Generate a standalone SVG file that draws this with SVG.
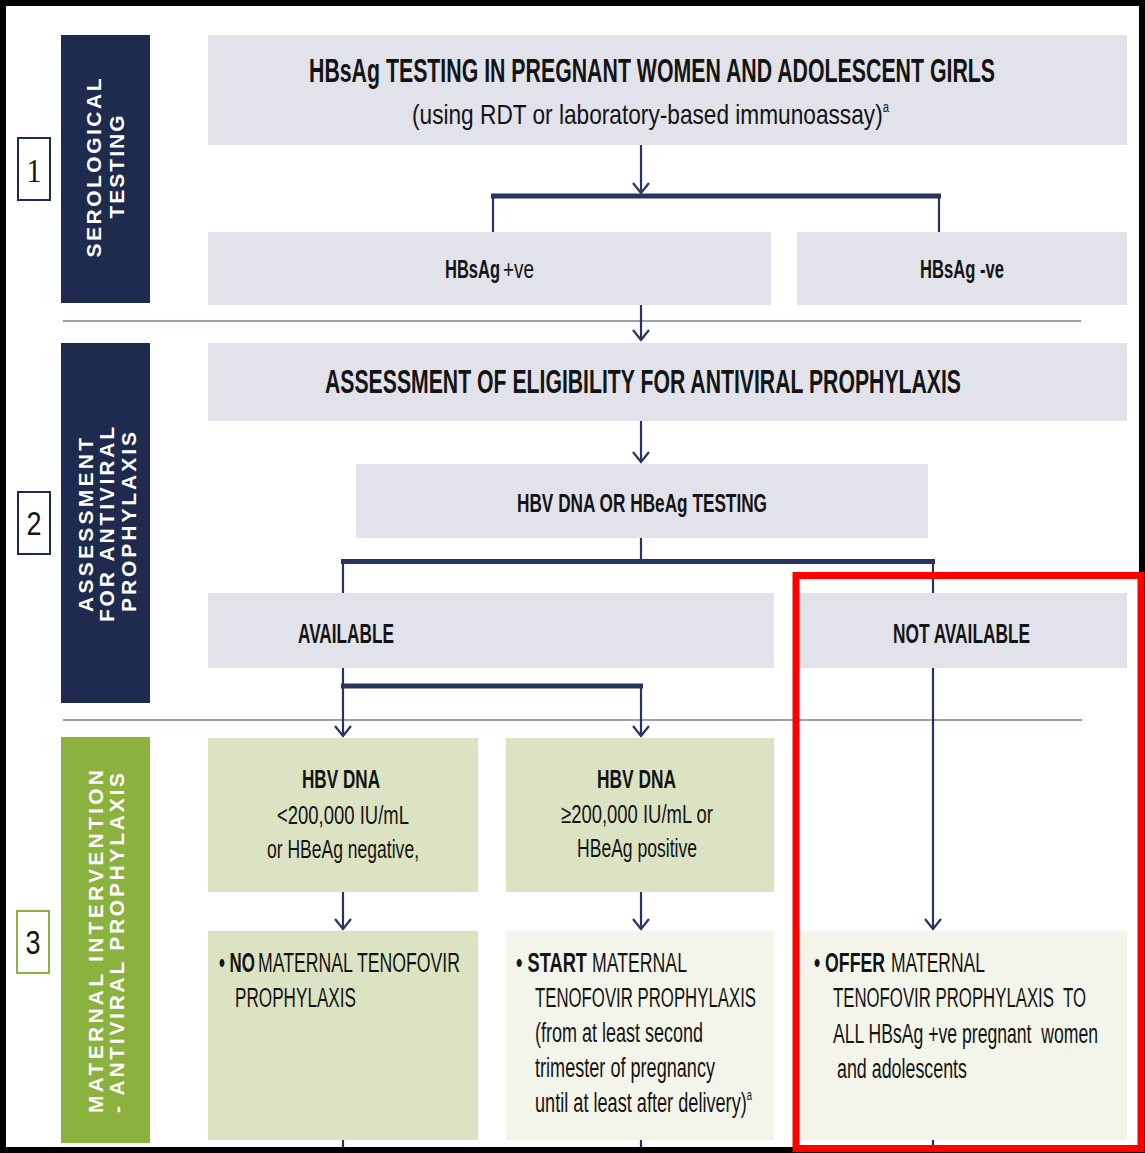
<svg xmlns="http://www.w3.org/2000/svg" width="1145" height="1153" viewBox="0 0 1145 1153">
<style>
.bg{fill:#ffffff}
.navy{fill:#1f2a4f}
.green{fill:#8bb13f}
.grey{fill:#e2e2ea}
.olive{fill:#dce3c2}
.cream{fill:#f3f5ea}
.num{fill:#ffffff;stroke-width:2}
.side{font-family:"Liberation Sans",Arial,sans-serif;font-weight:bold;font-size:21px;fill:#ffffff}
.t{font-family:"Liberation Sans Narrow","Liberation Sans",Arial,sans-serif;fill:#141414;white-space:pre}
.b{font-weight:bold}
.conn{stroke:#28335f;fill:none;stroke-width:2.2}
.bar{stroke:#28335f;fill:none;stroke-width:5}
.sep{stroke:#3c4262;stroke-width:1.2}
</style>
<defs>
<marker id="arr" markerUnits="userSpaceOnUse" markerWidth="24" markerHeight="24" viewBox="-12 -12 24 24" refX="0" refY="0" orient="auto">
<path d="M-10,-8 L0,0 L-10,8" fill="none" stroke="#28335f" stroke-width="2.2"/>
</marker>
</defs>
<rect class="bg" x="0" y="0" width="1145" height="1153"/>

<g id="separators">
<line class="sep" x1="63" y1="321" x2="1081" y2="321"/>
<line class="sep" x1="63" y1="720" x2="1082" y2="720"/>
</g>

<g id="side1">
<rect class="navy" x="61" y="35" width="89" height="268"/>
<text class="side" transform="translate(101,168) rotate(-90)" text-anchor="middle" textLength="179" lengthAdjust="spacing">SEROLOGICAL</text>
<text class="side" transform="translate(124,167) rotate(-90)" text-anchor="middle" textLength="103" lengthAdjust="spacing">TESTING</text>
</g>
<g id="num1">
<rect class="num" x="18" y="138" width="32" height="62" stroke="#1f2a4f"/>
<text x="34" y="182" text-anchor="middle" font-family="Liberation Serif,serif" font-size="34" fill="#141414" textLength="15" lengthAdjust="spacingAndGlyphs">1</text>
</g>
<g id="side2">
<rect class="navy" x="61" y="343" width="89" height="360"/>
<text class="side" transform="translate(93,525) rotate(-90)" text-anchor="middle" textLength="174" lengthAdjust="spacing">ASSESSMENT</text>
<text class="side" transform="translate(114,524.5) rotate(-90)" text-anchor="middle" textLength="195" lengthAdjust="spacing">FOR ANTIVIRAL</text>
<text class="side" transform="translate(136,522) rotate(-90)" text-anchor="middle" textLength="180" lengthAdjust="spacing">PROPHYLAXIS</text>
</g>
<g id="num2">
<rect class="num" x="18" y="492" width="32" height="62" stroke="#1f2a4f"/>
<text x="34" y="535" text-anchor="middle" font-family="Liberation Sans,sans-serif" font-size="34" fill="#141414" textLength="15" lengthAdjust="spacingAndGlyphs">2</text>
</g>
<g id="side3">
<rect class="green" x="61" y="737" width="89" height="406"/>
<text class="side" transform="translate(103,1113) rotate(-90)" textLength="343" lengthAdjust="spacing">MATERNAL INTERVENTION</text>
<text class="side" transform="translate(124,1113) rotate(-90)" textLength="340" lengthAdjust="spacing">- ANTIVIRAL PROPHYLAXIS</text>
</g>
<g id="num3">
<rect class="num" x="17" y="911" width="32" height="62" stroke="#8bb13f"/>
<text x="33" y="954" text-anchor="middle" font-family="Liberation Sans,sans-serif" font-size="34" fill="#141414" textLength="15" lengthAdjust="spacingAndGlyphs">3</text>
</g>

<g id="connectors">
<line class="conn" x1="641" y1="145" x2="641" y2="193" marker-end="url(#arr)"/>
<line class="bar" x1="491" y1="196" x2="941" y2="196"/>
<line class="conn" x1="493" y1="196" x2="493" y2="232"/>
<line class="conn" x1="939" y1="196" x2="939" y2="232"/>
<line class="conn" x1="641" y1="305" x2="641" y2="340" marker-end="url(#arr)"/>
<line class="conn" x1="641" y1="421" x2="641" y2="462" marker-end="url(#arr)"/>
<line class="conn" x1="641" y1="538" x2="641" y2="562"/>
<line class="bar" x1="341" y1="561.5" x2="935" y2="561.5"/>
<line class="conn" x1="343" y1="562" x2="343" y2="593"/>
<line class="conn" x1="933" y1="562" x2="933" y2="593"/>
<line class="conn" x1="343" y1="668" x2="343" y2="736" marker-end="url(#arr)"/>
<line class="bar" x1="341" y1="686" x2="643" y2="686"/>
<line class="conn" x1="641" y1="686" x2="641" y2="736" marker-end="url(#arr)"/>
<line class="conn" x1="933" y1="668" x2="933" y2="929" marker-end="url(#arr)"/>
<line class="conn" x1="343" y1="892" x2="343" y2="929" marker-end="url(#arr)"/>
<line class="conn" x1="641" y1="892" x2="641" y2="929" marker-end="url(#arr)"/>
<line class="conn" x1="343" y1="1140" x2="343" y2="1153"/>
<line class="conn" x1="641" y1="1140" x2="641" y2="1153"/>
<line class="conn" x1="933" y1="1140" x2="933" y2="1153"/>
</g>

<g id="hbsag-testing">
<rect class="grey" x="208" y="35" width="919" height="110"/>
<text class="t b" x="309" y="82" font-size="33" textLength="686" lengthAdjust="spacingAndGlyphs">HBsAg TESTING IN PREGNANT WOMEN AND ADOLESCENT GIRLS</text>
<text class="t" x="412" y="124" font-size="28" textLength="477" lengthAdjust="spacingAndGlyphs">(using RDT or laboratory-based immunoassay)<tspan font-size="14" dy="-12">a</tspan></text>
</g>
<g id="hbsag-pos">
<rect class="grey" x="208" y="232" width="563" height="73"/>
<text class="t b" x="445" y="278" font-size="25" textLength="55" lengthAdjust="spacingAndGlyphs">HBsAg</text>
<text class="t" x="503" y="278" font-size="25" textLength="31" lengthAdjust="spacingAndGlyphs">+ve</text>
</g>
<g id="hbsag-neg">
<rect class="grey" x="797" y="232" width="330" height="73"/>
<text class="t b" x="920" y="278" font-size="25" textLength="84" lengthAdjust="spacingAndGlyphs">HBsAg -ve</text>
</g>
<g id="assessment">
<rect class="grey" x="208" y="343" width="919" height="78"/>
<text class="t b" x="325" y="393" font-size="33" textLength="636" lengthAdjust="spacingAndGlyphs">ASSESSMENT OF ELIGIBILITY FOR ANTIVIRAL PROPHYLAXIS</text>
</g>
<g id="dna-testing">
<rect class="grey" x="356" y="464" width="572" height="74"/>
<text class="t b" x="517" y="512" font-size="26" textLength="250" lengthAdjust="spacingAndGlyphs">HBV DNA OR HBeAg TESTING</text>
</g>
<g id="available">
<rect class="grey" x="208" y="593" width="566" height="75"/>
<text class="t b" x="298" y="643" font-size="27" textLength="96" lengthAdjust="spacingAndGlyphs">AVAILABLE</text>
</g>
<g id="not-available">
<rect class="grey" x="798" y="593" width="329" height="75"/>
<text class="t b" x="893" y="643" font-size="27" textLength="137" lengthAdjust="spacingAndGlyphs">NOT AVAILABLE</text>
</g>
<g id="dna-low">
<rect class="olive" x="208" y="738" width="270" height="154"/>
<text class="t b" x="302" y="788" font-size="25" textLength="78" lengthAdjust="spacingAndGlyphs">HBV DNA</text>
<text class="t" x="277" y="824" font-size="26" textLength="132" lengthAdjust="spacingAndGlyphs">&lt;200,000 IU/mL</text>
<text class="t" x="267" y="858" font-size="26" textLength="152" lengthAdjust="spacingAndGlyphs">or HBeAg negative,</text>
</g>
<g id="dna-high">
<rect class="olive" x="506" y="738" width="268" height="154"/>
<text class="t b" x="597" y="788" font-size="25" textLength="79" lengthAdjust="spacingAndGlyphs">HBV DNA</text>
<text class="t" x="561" y="823" font-size="26" textLength="152" lengthAdjust="spacingAndGlyphs">≥200,000 IU/mL or</text>
<text class="t" x="577" y="857" font-size="26" textLength="120" lengthAdjust="spacingAndGlyphs">HBeAg positive</text>
</g>
<g id="no-prophylaxis">
<rect class="olive" x="208" y="931" width="270" height="209"/>
<text class="t b" x="219" y="972" font-size="27" textLength="36" lengthAdjust="spacingAndGlyphs">• NO</text>
<text class="t" x="258" y="972" font-size="27" textLength="202" lengthAdjust="spacingAndGlyphs">MATERNAL TENOFOVIR</text>
<text class="t" x="235" y="1007" font-size="27" textLength="121" lengthAdjust="spacingAndGlyphs">PROPHYLAXIS</text>
</g>
<g id="start-prophylaxis">
<rect class="cream" x="506" y="931" width="268" height="209"/>
<text class="t b" x="516" y="972" font-size="27" textLength="71" lengthAdjust="spacingAndGlyphs">• START</text>
<text class="t" x="592" y="972" font-size="27" textLength="95" lengthAdjust="spacingAndGlyphs">MATERNAL</text>
<text class="t" x="535" y="1007" font-size="27" textLength="221" lengthAdjust="spacingAndGlyphs">TENOFOVIR PROPHYLAXIS</text>
<text class="t" x="535" y="1042" font-size="27" textLength="168" lengthAdjust="spacingAndGlyphs">(from at least second</text>
<text class="t" x="535" y="1077" font-size="27" textLength="180" lengthAdjust="spacingAndGlyphs">trimester of pregnancy</text>
<text class="t" x="535" y="1112" font-size="27" textLength="217" lengthAdjust="spacingAndGlyphs">until at least after delivery)<tspan font-size="14" dy="-12">a</tspan></text>
</g>
<g id="offer-prophylaxis">
<rect class="cream" x="799" y="931" width="328" height="209"/>
<text class="t b" x="814" y="972" font-size="27" textLength="71" lengthAdjust="spacingAndGlyphs">• OFFER</text>
<text class="t" x="891" y="972" font-size="27" textLength="94" lengthAdjust="spacingAndGlyphs">MATERNAL</text>
<text class="t" x="833" y="1007" font-size="27" textLength="253" lengthAdjust="spacingAndGlyphs">TENOFOVIR PROPHYLAXIS  TO</text>
<text class="t" x="833" y="1043" font-size="27" textLength="265" lengthAdjust="spacingAndGlyphs">ALL HBsAg +ve pregnant  women</text>
<text class="t" x="837" y="1078" font-size="27" textLength="130" lengthAdjust="spacingAndGlyphs">and adolescents</text>
</g>

<g id="frames">
<rect x="3" y="3" width="1139" height="1147" fill="none" stroke="#000000" stroke-width="6"/>
<rect x="796" y="575.5" width="345" height="573" fill="none" stroke="#ff0000" stroke-width="7"/>
</g>
</svg>
